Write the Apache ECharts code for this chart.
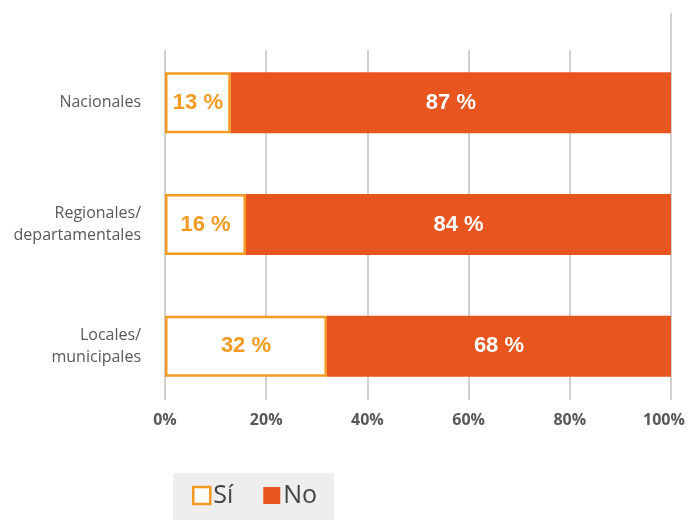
<!DOCTYPE html>
<html>
<head>
<meta charset="utf-8">
<script src="https://cdn.jsdelivr.net/npm/echarts@6/dist/echarts.min.js"></script>
<style>
  html, body { margin: 0; padding: 0; background: #ffffff; }
  #chart { width: 690px; height: 520px; }
</style>
</head>
<body>
<div id="chart"></div>
<script>
// Survey shares per level of government
const categories = ['Nacionales', 'Regionales/\ndepartamentales', 'Locales/\nmunicipales'];
const siValues = [13, 16, 32];
const noValues = [87, 84, 68];
const tickValues = [0, 20, 40, 60, 80, 100];

const ORANGE = '#F39A22';
const RED = '#E8551E';
const TEXT = '#595959';

const tickFont = { fontFamily: 'Open Sans', fontWeight: 'bold', fontSize: 16, color: TEXT };

const chart = echarts.init(document.getElementById('chart'));

chart.setOption({
  animation: false,
  legend: {
    left: 173,
    top: 473,
    height: 60,
    padding: [10, 17, 20, 19],
    backgroundColor: '#EEEEEE',
    itemGap: 30,
    itemWidth: 17,
    itemHeight: 17,
    textStyle: { fontFamily: 'Open Sans', fontSize: 25, color: '#444444', padding: [0, 0, 0, -2] },
    data: [
      { name: 'Sí', icon: 'rect', itemStyle: { color: '#ffffff', borderColor: ORANGE, borderWidth: 2.5 } },
      { name: 'No', icon: 'rect', itemStyle: { color: RED } }
    ]
  },
  grid: [
    // bars
    { left: 165, right: 19, top: 42, height: 365, outerBoundsMode: 'none' },
    // gridlines and percentage ticks
    { left: 165, right: 19, top: 50, height: 350, outerBoundsMode: 'none' }
  ],
  xAxis: [
    {
      gridIndex: 0, type: 'value', min: 0, max: 100,
      axisLabel: { show: false }, splitLine: { show: false },
      axisLine: { show: false }, axisTick: { show: false }
    },
    {
      gridIndex: 1, type: 'value', min: 0, max: 100, interval: 20, z: 0,
      axisLine: { show: false }, axisTick: { show: false },
      splitLine: { show: true, lineStyle: { color: '#D0D0D0', width: 2 } },
      axisLabel: Object.assign({
        margin: 12,
        // the last tick label is nudged left so it stays on the canvas
        formatter: v => {
          if (!tickValues.includes(v)) return '';
          return v === 100 ? '{end|' + v + '%}' : v + '%';
        },
        rich: { end: Object.assign({ padding: [0, 14, 0, 0] }, tickFont) }
      }, tickFont)
    }
  ],
  yAxis: [
    {
      gridIndex: 0, type: 'category', data: categories, inverse: true,
      axisLine: { show: false }, axisTick: { show: false },
      axisLabel: {
        margin: 24, fontFamily: 'Open Sans', fontSize: 16, color: TEXT,
        lineHeight: 22, align: 'right'
      }
    },
    {
      gridIndex: 1, type: 'category', data: categories, inverse: true,
      show: false
    }
  ],
  // the 100% gridline runs higher than the others
  graphic: [{
    type: 'line', z: 0,
    shape: { x1: 671, y1: 13, x2: 671, y2: 50 },
    style: { stroke: '#D0D0D0', lineWidth: 2 }
  }],
  series: [
    {
      name: 'Sí', type: 'bar', stack: 'total', barWidth: 61, z: 3,
      xAxisIndex: 0, yAxisIndex: 0,
      data: siValues,
      itemStyle: { color: '#ffffff', borderColor: ORANGE, borderWidth: 2.5 },
      label: {
        show: true, position: 'inside',
        formatter: p => p.value + ' %',
        fontFamily: 'Arial', fontWeight: 'bold', fontSize: 22, color: ORANGE
      }
    },
    {
      name: 'No', type: 'bar', stack: 'total', barWidth: 63, z: 3,
      xAxisIndex: 0, yAxisIndex: 0,
      data: noValues,
      itemStyle: { color: RED },
      label: {
        show: true, position: 'inside',
        formatter: p => p.value + ' %',
        fontFamily: 'Arial', fontWeight: 'bold', fontSize: 22, color: '#ffffff'
      }
    }
  ]
});
</script>
</body>
</html>
